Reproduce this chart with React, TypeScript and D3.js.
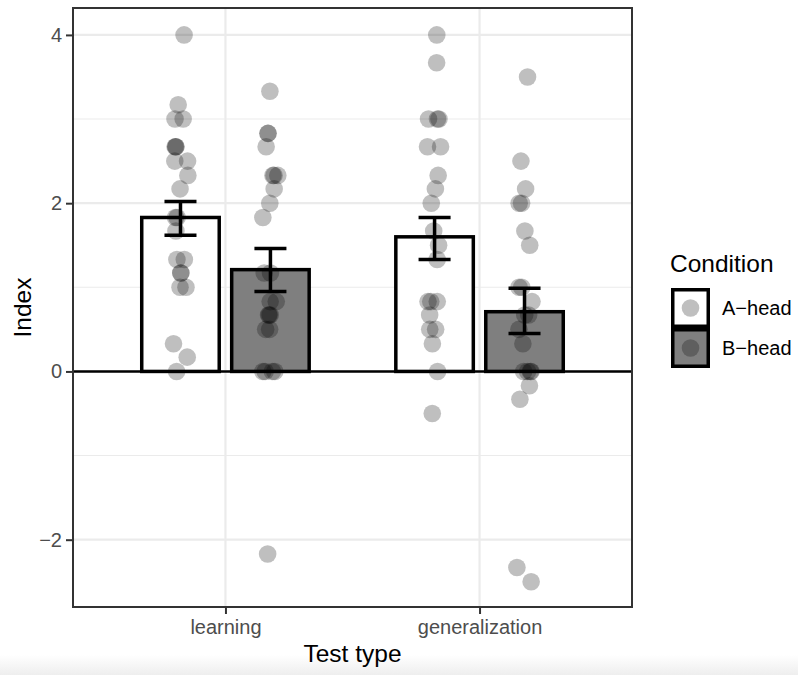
import React, { useEffect, useRef } from "react";
import * as d3 from "d3";

// test types on the x axis
const testTypes = ["learning", "generalization"];
const conditions = ["A-head", "B-head"];

// bar heights and error bar ends
const meanA = [1.83, 1.6];
const meanB = [1.21, 0.71];
const lowA = [1.62, 1.33];
const highA = [2.02, 1.83];
const lowB = [0.95, 0.45];
const highB = [1.46, 0.99];

// single participant scores
const learningA = [4, 3.17, 3, 3, 2.67, 2.67, 2.67, 2.5, 2.5, 2.33, 2.17, 1.83, 1.83, 1.67, 1.33, 1.33, 1.17, 1.17, 1, 1, 0.33, 0.17, 0];
const learningB = [3.33, 2.83, 2.83, 2.67, 2.33, 2.33, 2.33, 2.17, 2, 1.83, 1.17, 1.17, 0.83, 0.83, 0.67, 0.67, 0.67, 0.5, 0.5, 0, 0, 0, 0, -2.17];
const generalizationA = [4, 3.67, 3, 3, 3, 2.67, 2.67, 2.33, 2.17, 2, 1.67, 1.5, 1.33, 0.83, 0.83, 0.83, 0.67, 0.5, 0.5, 0.33, 0, -0.5];
const generalizationB = [3.5, 2.5, 2.17, 2, 2, 1.67, 1.5, 1, 1, 0.83, 0.67, 0.67, 0.5, 0.33, 0, 0, 0, 0, -0.17, -0.33, -2.33, -2.5];

const yTicks = [-2, 0, 2, 4];
const yMinor = [-1, 1, 3];

const fills = ["#ffffff", "#7f7f7f"];

function App() {
  const ref = useRef<SVGSVGElement>(null);

  useEffect(() => {
    const W = 798, H = 675;
    const margin = { top: 8, right: 166, bottom: 68, left: 73 };
    const pw = W - margin.left - margin.right;
    const ph = H - margin.top - margin.bottom;

    const svg = d3.select(ref.current);
    svg.selectAll("*").remove();

    // faint band at the bottom of the screenshot
    const defs = svg.append("defs");
    const grad = defs.append("linearGradient").attr("id", "fade").attr("x1", 0).attr("x2", 0).attr("y1", 0).attr("y2", 1);
    grad.append("stop").attr("offset", "0%").attr("stop-color", "#ffffff");
    grad.append("stop").attr("offset", "100%").attr("stop-color", "#eeeeee");
    svg.append("rect").attr("x", 0).attr("y", 655).attr("width", W).attr("height", 20).attr("fill", "url(#fade)");

    const g = svg.append("g").attr("transform", `translate(${margin.left},${margin.top})`);

    const x = d3.scalePoint().domain(testTypes).range([0, pw]).padding(0.6);
    const y = d3.scaleLinear().domain([-2.8, 4.32]).range([ph, 0]);
    const step = x.step();
    const dodge = step * 0.177;
    const barW = step * 0.305;
    const capW = step * 0.126;

    // grid
    g.selectAll(".minor").data(yMinor).enter().append("line")
      .attr("x1", 0).attr("x2", pw).attr("y1", d => y(d)).attr("y2", d => y(d))
      .attr("stroke", "#ebebeb").attr("stroke-width", 1.1);
    g.selectAll(".major").data(yTicks).enter().append("line")
      .attr("x1", 0).attr("x2", pw).attr("y1", d => y(d)).attr("y2", d => y(d))
      .attr("stroke", "#ebebeb").attr("stroke-width", 2.2);
    g.selectAll(".vmajor").data(testTypes).enter().append("line")
      .attr("y1", 0).attr("y2", ph).attr("x1", d => x(d)!).attr("x2", d => x(d)!)
      .attr("stroke", "#ebebeb").attr("stroke-width", 2.2);

    const groups = [
      { cond: 0, mean: meanA, low: lowA, high: highA, pts: [learningA, generalizationA], off: -dodge },
      { cond: 1, mean: meanB, low: lowB, high: highB, pts: [learningB, generalizationB], off: dodge },
    ];

    // bars
    groups.forEach(gr => {
      g.selectAll(".bar" + gr.cond).data(testTypes).enter().append("rect")
        .attr("x", d => x(d)! + gr.off - barW / 2)
        .attr("width", barW)
        .attr("y", (d, i) => y(gr.mean[i]))
        .attr("height", (d, i) => y(0) - y(gr.mean[i]))
        .attr("fill", fills[gr.cond])
        .attr("stroke", "#000").attr("stroke-width", 3.5);
    });

    // zero line
    g.append("line").attr("x1", 0).attr("x2", pw).attr("y1", y(0)).attr("y2", y(0))
      .attr("stroke", "#000").attr("stroke-width", 2.5);

    // jittered points
    const jitter = d3.randomUniform.source(d3.randomLcg(0.42))(-0.03, 0.03);
    groups.forEach(gr => {
      testTypes.forEach((t, i) => {
        g.selectAll(null).data(gr.pts[i]).enter().append("circle")
          .attr("cx", () => x(t)! + gr.off + jitter() * step)
          .attr("cy", d => y(d))
          .attr("r", 8.8)
          .attr("fill", "#000").attr("fill-opacity", 0.25);
      });
    });

    // error bars
    groups.forEach(gr => {
      testTypes.forEach((t, i) => {
        const cx = x(t)! + gr.off;
        const eb = g.append("g").attr("stroke", "#000").attr("stroke-width", 3.5);
        eb.append("line").attr("x1", cx).attr("x2", cx).attr("y1", y(gr.low[i])).attr("y2", y(gr.high[i]));
        eb.append("line").attr("x1", cx - capW / 2).attr("x2", cx + capW / 2).attr("y1", y(gr.low[i])).attr("y2", y(gr.low[i]));
        eb.append("line").attr("x1", cx - capW / 2).attr("x2", cx + capW / 2).attr("y1", y(gr.high[i])).attr("y2", y(gr.high[i]));
      });
    });

    // panel border
    g.append("rect").attr("x", 0).attr("y", 0).attr("width", pw).attr("height", ph)
      .attr("fill", "none").attr("stroke", "#333333").attr("stroke-width", 2);

    // axes
    const yAxis = g.append("g").call(d3.axisLeft(y).tickValues(yTicks).tickSize(7).tickPadding(4).tickFormat(d => d3.format("")(d as number).replace("-", "\u2212")));
    const xAxis = g.append("g").attr("transform", `translate(0,${ph})`).call(d3.axisBottom(x).tickSize(7).tickPadding(6));
    [yAxis, xAxis].forEach(a => {
      a.select(".domain").remove();
      a.selectAll(".tick line").attr("stroke", "#333333").attr("stroke-width", 2);
      a.selectAll(".tick text").attr("fill", "#4d4d4d").attr("font-size", 20)
        .attr("font-family", "'Liberation Sans', Arial, sans-serif");
    });

    // axis titles
    svg.append("text").attr("x", margin.left + pw / 2).attr("y", 662).attr("text-anchor", "middle")
      .attr("font-size", 24.5).attr("font-family", "'Liberation Sans', Arial, sans-serif").text("Test type");
    svg.append("text").attr("transform", `translate(31,${margin.top + ph / 2}) rotate(-90)`).attr("text-anchor", "middle")
      .attr("font-size", 24.5).attr("font-family", "'Liberation Sans', Arial, sans-serif").text("Index");

    // legend
    const lg = svg.append("g").attr("transform", "translate(671,0)");
    lg.append("text").attr("x", -1).attr("y", 272).attr("font-size", 24.5)
      .attr("font-family", "'Liberation Sans', Arial, sans-serif").text("Condition");
    conditions.forEach((c, i) => {
      const ky = 288 + i * 40;
      lg.append("rect").attr("x", 1.75).attr("y", ky + 1.75).attr("width", 35.5).attr("height", 36.5)
        .attr("fill", fills[i]).attr("stroke", "#000").attr("stroke-width", 3.5);
      lg.append("circle").attr("cx", 19.5).attr("cy", ky + 20).attr("r", 8.8).attr("fill", "#000").attr("fill-opacity", 0.25);
      lg.append("text").attr("x", 51).attr("y", ky + 20).attr("dy", "0.36em").attr("font-size", 20)
        .attr("font-family", "'Liberation Sans', Arial, sans-serif").text(c.replace("-", "\u2212"));
    });
  }, []);

  return <svg ref={ref} width={798} height={675} style={{ position: "absolute", left: 0, top: 0 }} />;
}

export default App;
